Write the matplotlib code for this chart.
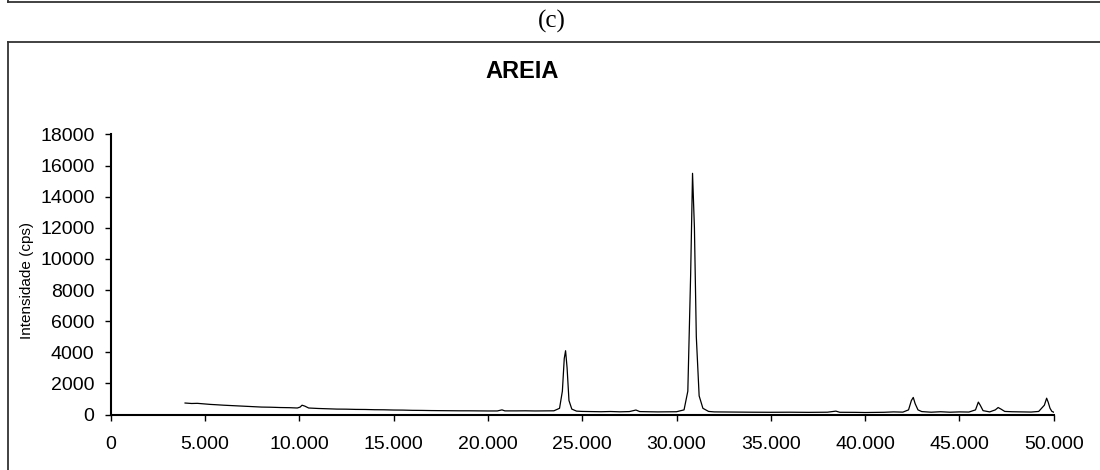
import matplotlib
matplotlib.use("Agg")
import matplotlib.pyplot as plt
from matplotlib.lines import Line2D

# 2-theta positions and intensities
two_theta = [
    3.95, 4.3, 4.6, 5.0, 5.3, 5.6, 6.0, 6.5, 7.0, 7.5, 8.0, 8.5, 9.0, 9.5,
    9.9, 10.05, 10.15, 10.3, 10.5, 11.0, 11.5, 12.0, 12.5, 13.0, 13.5, 14.0,
    14.5, 15.0, 15.5, 16.0, 16.5, 17.0, 17.5, 18.0, 18.5, 19.0, 19.5, 20.0,
    20.5, 20.75, 20.9, 21.5, 22.0, 22.5, 23.0, 23.5, 23.8, 23.95, 24.05,
    24.12, 24.2, 24.3, 24.45, 24.7, 25.0, 25.5, 26.0, 26.5, 27.0, 27.5,
    27.85, 28.05, 28.5, 29.0, 29.5, 30.0, 30.4, 30.6, 30.75, 30.85, 30.95,
    31.05, 31.2, 31.4, 31.7, 32.0, 33.0, 34.0, 35.0, 36.0, 37.0, 38.0,
    38.45, 38.65, 39.5, 40.0, 41.0, 41.5, 42.0, 42.3, 42.45, 42.55, 42.65,
    42.8, 43.0, 43.5, 44.0, 44.5, 45.0, 45.5, 45.85, 46.0, 46.1, 46.25,
    46.6, 46.9, 47.05, 47.2, 47.4, 47.8, 48.3, 48.8, 49.2, 49.5, 49.62,
    49.7, 49.8, 49.9, 50.0,
]
intensity = [
    740, 710, 720, 680, 650, 630, 600, 570, 540, 510, 480, 470, 450, 440,
    420, 480, 600, 540, 420, 390, 370, 350, 345, 330, 325, 310, 305, 290,
    285, 270, 265, 255, 250, 245, 240, 240, 235, 230, 230, 300, 235, 235,
    240, 230, 235, 240, 400, 1500, 3600, 4100, 3000, 900, 350, 220, 200,
    190, 180, 195, 175, 190, 290, 190, 180, 170, 175, 180, 300, 1500, 9000,
    15500, 12000, 5000, 1200, 400, 200, 170, 160, 150, 145, 150, 140, 150,
    220, 145, 140, 130, 145, 170, 155, 300, 900, 1100, 700, 300, 190, 150,
    180, 150, 170, 160, 300, 800, 600, 250, 170, 300, 450, 350, 200, 180,
    170, 160, 200, 600, 1050, 800, 400, 200, 150,
]

x_ticks = [0, 5, 10, 15, 20, 25, 30, 35, 40, 45, 50]
x_tick_labels = ["0", "5.000", "10.000", "15.000", "20.000", "25.000",
                 "30.000", "35.000", "40.000", "45.000", "50.000"]
y_ticks = list(range(0, 18001, 2000))

plt.rcParams['font.family'] = ['Liberation Sans', 'DejaVu Sans']

fig = plt.figure(figsize=(11, 4.7), dpi=100)
ax = fig.add_axes([0.1005, 0.118, 0.8575, 0.596])

ax.plot(two_theta, intensity, color='black', lw=0.9)

ax.set_xlim(0, 50)
ax.set_ylim(0, 18000)
ax.set_xticks(x_ticks)
ax.set_xticklabels(x_tick_labels)
ax.set_yticks(y_ticks)
ax.tick_params(direction='out', length=4.5, width=1, labelsize=14)
ax.tick_params(axis='x', pad=11)
ax.tick_params(axis='y', pad=7)

for side in ['top', 'right']:
    ax.spines[side].set_visible(False)
for side in ['left', 'bottom']:
    ax.spines[side].set_linewidth(1.5)

fig.text(0.0245, 0.404, 'Intensidade (cps)', rotation=90, fontsize=11,
         ha='center', va='center')
fig.text(0.475, 0.847, 'AREIA', fontsize=17, fontweight='bold',
         ha='center', va='center')
fig.text(0.502, 0.955, '(c)', fontsize=18, family=['Liberation Serif'],
         ha='center', va='center')

# frame lines of the surrounding figure boxes
w, h = 1100.0, 470.0
frame = dict(color='#333333', lw=1.3, transform=fig.transFigure)
fig.add_artist(Line2D([8 / w, 1], [1 - 2 / h, 1 - 2 / h], **frame))
fig.add_artist(Line2D([8 / w, 8 / w], [1, 1 - 2 / h], **frame))
fig.add_artist(Line2D([8 / w, 1], [1 - 42 / h, 1 - 42 / h], **frame))
fig.add_artist(Line2D([8 / w, 8 / w], [1 - 42 / h, 0], **frame))

fig.savefig('out.png', dpi=100)
